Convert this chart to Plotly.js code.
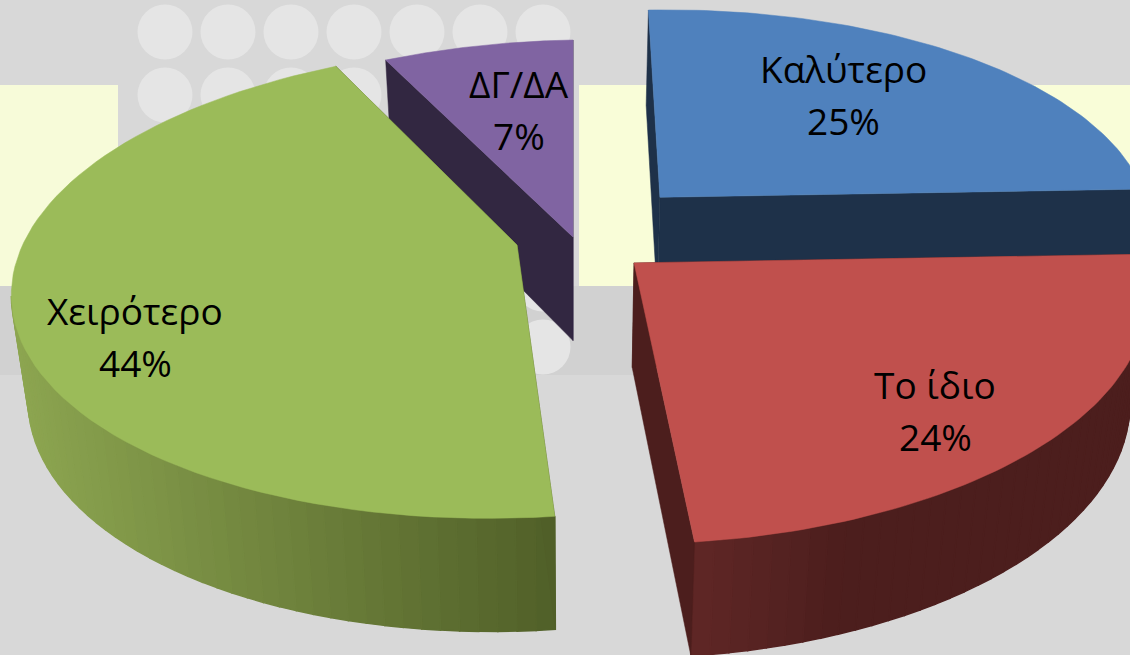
<!DOCTYPE html>
<html><head><meta charset="utf-8">
<script src="https://cdn.plot.ly/plotly-3.0.1.min.js"></script>
<style>html,body{margin:0;padding:0;background:#d8d8d8}#c{width:1130px;height:655px}</style>
</head><body><div id="c"></div>
<script>
const categories = ['Καλύτερο', 'Το ίδιο', 'Χειρότερο', 'ΔΓ/ΔΑ'];
const values = [25, 23.7, 44.2, 7.1];
// Style / layout per slice
const topColors = ['#4F81BD', '#C0504D', '#9BBB59', '#8064A2'];
const cutColors = ['#1E3149', '#4C1E1D', '#505F28', '#322741'];
const wallFrom = [[30,49,73], [96,39,38], [140,165,80], [50,39,65]];
const wallTo = [[30,49,73], [76,30,29], [80,95,40], [50,39,65]];
const explodeX = [0.1801, 0.1209, -0.1124, 0.0];
const explodeY = [0.2287, -0.0595, 0.0259, 0.0563];
const labelX = [843, 935, 135, 519];
const labelNameY = [68, 384, 310, 83];
const labelGap = 52;
const drawOrder = [3, 0, 2, 1];

// Perspective camera of the tilted pie
const VX = 573, CY = 250, K = 0.158, A = 232, F = 500, ROLL = 0.017, H = 104, SHRINK = 0.97;
function project(X, Y, lower) {
  const w = 1 + K * Y;
  let dx = F * X / w;
  let y = CY - A * Y / w - ROLL * dx;
  if (lower) { dx *= SHRINK; y += H / Math.sqrt(w); }
  return [VX + dx, y];
}
const total = values.reduce((a, b) => a + b, 0);
let cum = 0;
const slices = values.map((v, i) => {
  const a0 = cum / total * 2 * Math.PI; cum += v;
  const a1 = cum / total * 2 * Math.PI;
  return {i, a0, a1};
});
function rim(s, t) {
  const a = s.a0 + (s.a1 - s.a0) * t;
  return [explodeX[s.i] + Math.sin(a), explodeY[s.i] + Math.cos(a)];
}
function poly(pts, color, width) {
  return {type: 'scatter', mode: 'lines', x: pts.concat([pts[0]]).map(p => p[0]), y: pts.concat([pts[0]]).map(p => p[1]),
    fill: 'toself', fillcolor: color, line: {color: color, width: width}, hoverinfo: 'skip', showlegend: false};
}
const mix = (a, b, t) => 'rgb(' + a.map((c, j) => Math.round(c + (b[j] - c) * t)).join(',') + ')';
const traces = [];
drawOrder.forEach(idx => {
  const s = slices[idx];
  const apex = [explodeX[idx], explodeY[idx]];
  const n = Math.max(12, Math.round((s.a1 - s.a0) * 30));
  // outer wall with a left-to-right shade; only the part that faces the viewer
  const xs = [];
  for (let k = 0; k <= n; k++) { const r = rim(s, k / n); xs.push(project(r[0], r[1])[0]); }
  for (let k = 0; k < n; k++) {
    if (xs[k + 1] >= xs[k]) continue;
    const r0 = rim(s, k / n), r1 = rim(s, (k + 1) / n);
    const mx = (xs[k] + xs[k + 1]) / 2;
    let t;
    if (idx === 2) t = (mx - 17) / 540;
    else if (idx === 1) t = (mx - 693) / 150;
    else t = 0;
    t = Math.max(0, Math.min(1, t));
    traces.push(poly([project(r0[0], r0[1]), project(r1[0], r1[1]), project(r1[0], r1[1], true), project(r0[0], r0[1], true)], mix(wallFrom[idx], wallTo[idx], t), 1.5));
  }
  // cut faces
  [0, 1].forEach(t => {
    const r = rim(s, t);
    traces.push(poly([project(apex[0], apex[1]), project(r[0], r[1]), project(r[0], r[1], true), project(apex[0], apex[1], true)], cutColors[idx], 0.5));
  });
  // top face
  const pts = [project(apex[0], apex[1])];
  const m = 80;
  for (let k = 0; k <= m; k++) { const r = rim(s, k / m); pts.push(project(r[0], r[1])); }
  traces.push(poly(pts, topColors[idx], 0.5));
});

// Decorative backdrop
const circleCols = [165, 228, 291, 354, 417, 480, 543];
const circleRows = [32, 95, 158, 221, 284, 347];
const shapes = [
  {type: 'rect', x0: 0, x1: 1130, y0: 286, y1: 375, fillcolor: '#D1D1D1', line: {width: 0}, layer: 'below'},
  {type: 'rect', x0: 0, x1: 118, y0: 85, y1: 286, fillcolor: '#F7FBD9', line: {width: 0}, layer: 'below'},
  {type: 'rect', x0: 579, x1: 1130, y0: 85, y1: 286, fillcolor: '#F9FDD8', line: {width: 0}, layer: 'below'}
];
circleRows.forEach(cy => circleCols.forEach(cx => shapes.push({type: 'circle', x0: cx - 27.5, x1: cx + 27.5, y0: cy - 27.5, y1: cy + 27.5, fillcolor: '#E5E5E5', line: {width: 0}, layer: 'below'})));

const labelFont = {family: 'Open Sans, Noto Sans, sans-serif', size: 37, color: '#000'};
const annotations = [];
categories.forEach((c, i) => {
  annotations.push({x: labelX[i], y: labelNameY[i], text: c, showarrow: false, xanchor: 'center', yanchor: 'middle', font: labelFont});
  annotations.push({x: labelX[i], y: labelNameY[i] + labelGap, text: Math.round(values[i]) + '%', showarrow: false, xanchor: 'center', yanchor: 'middle', font: labelFont});
});

Plotly.newPlot('c', traces, {
  width: 1130, height: 655, margin: {l: 0, r: 0, t: 0, b: 0},
  paper_bgcolor: '#D8D8D8', plot_bgcolor: '#D8D8D8', showlegend: false,
  xaxis: {range: [0, 1130], visible: false, fixedrange: true},
  yaxis: {range: [655, 0], visible: false, fixedrange: true},
  shapes, annotations
}, {displayModeBar: false, staticPlot: true});
</script></body></html>
